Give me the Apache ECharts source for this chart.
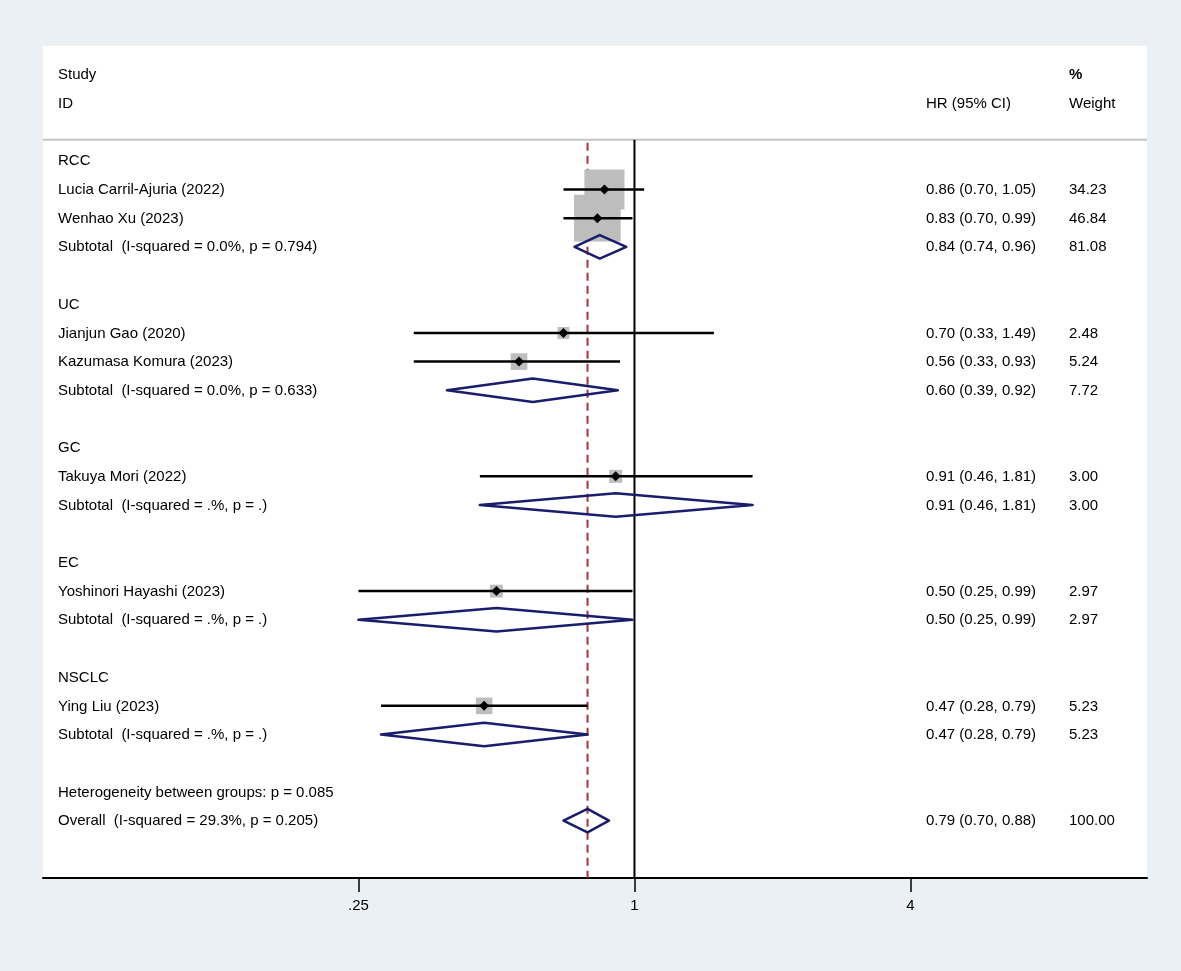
<!DOCTYPE html>
<html><head><meta charset="utf-8">
<script src="https://cdn.jsdelivr.net/npm/echarts@6/dist/echarts.min.js"></script>
<style>html,body{margin:0;padding:0;background:#eaf0f3;} #c{width:1181px;height:971px;}</style>
</head><body><div id="c"></div>
<script>
// ---------- data ----------
const rowLabels = [
 'RCC','Lucia Carril-Ajuria (2022)','Wenhao Xu (2023)','Subtotal  (I-squared = 0.0%, p = 0.794)','',
 'UC','Jianjun Gao (2020)','Kazumasa Komura (2023)','Subtotal  (I-squared = 0.0%, p = 0.633)','',
 'GC','Takuya Mori (2022)','Subtotal  (I-squared = .%, p = .)','',
 'EC','Yoshinori Hayashi (2023)','Subtotal  (I-squared = .%, p = .)','',
 'NSCLC','Ying Liu (2023)','Subtotal  (I-squared = .%, p = .)','',
 'Heterogeneity between groups: p = 0.085','Overall  (I-squared = 29.3%, p = 0.205)'];
const rowType = [
 'group','study','study','sub','blank',
 'group','study','study','sub','blank',
 'group','study','sub','blank',
 'group','study','sub','blank',
 'group','study','sub','blank',
 'note','sub'];
const hr     = [null,0.86,0.83,0.84,null, null,0.70,0.56,0.60,null, null,0.91,0.91,null, null,0.50,0.50,null, null,0.47,0.47,null, null,0.79];
const ciLow  = [null,0.70,0.70,0.74,null, null,0.33,0.33,0.39,null, null,0.46,0.46,null, null,0.25,0.25,null, null,0.28,0.28,null, null,0.70];
const ciHigh = [null,1.05,0.99,0.96,null, null,1.49,0.93,0.92,null, null,1.81,1.81,null, null,0.99,0.99,null, null,0.79,0.79,null, null,0.88];
const weight = [null,34.23,46.84,81.08,null, null,2.48,5.24,7.72,null, null,3.00,3.00,null, null,2.97,2.97,null, null,5.23,5.23,null, null,100.00];
const headerLeft = ['Study','ID'];
const headerHR = 'HR (95% CI)';
const headerWeight = ['%','Weight'];
const tickValues = [0.25, 1, 4];
const tickLabels = ['.25','1','4'];
const overallHR = 0.79;
const nullHR = 1;

// ---------- derived ----------
const L2 = Math.log2;
const studyData = [], subData = [], textData = [];
for (let i = 0; i < rowLabels.length; i++) {
  if (rowType[i] === 'study') studyData.push([L2(hr[i]), i, L2(ciLow[i]), L2(ciHigh[i]), weight[i]]);
  if (rowType[i] === 'sub') subData.push([L2(hr[i]), i, L2(ciLow[i]), L2(ciHigh[i]), weight[i]]);
  textData.push([0, i]);
}
const FONT = '"Liberation Sans", Arial, sans-serif';
const COL_LABEL = 15, COL_HR = 883, COL_W = 1026; // px offsets from the grid's left edge

const chart = echarts.init(document.getElementById('c'), null, {renderer: 'canvas'});
chart.setOption({
  animation: false,
  backgroundColor: '#eaf0f3',
  grid: {left: 43, right: 34, top: 46, bottom: 93, show: true, backgroundColor: '#ffffff', borderWidth: 0},
  xAxis: {
    type: 'value', min: -4.286, max: 3.714,
    splitLine: {show: false},
    axisLine: {show: true, onZero: false, lineStyle: {color: '#000', width: 2}},
    axisTick: {show: true, customValues: tickValues.map(L2), length: 14, lineStyle: {color: '#000', width: 1.5}},
    axisLabel: {
      customValues: tickValues.map(L2), margin: 20, color: '#000', fontSize: 15, fontFamily: FONT,
      formatter: v => { const k = tickValues.findIndex(t => Math.abs(L2(t) - v) < 1e-6); return k >= 0 ? tickLabels[k] : ''; }
    }
  },
  yAxis: {type: 'value', min: -4, max: 25, inverse: true, show: false},
  series: [
    { // reference lines and header separator
      type: 'custom', data: [[0, 0]], z: 1, silent: true,
      renderItem: (params, api) => {
        const cs = params.coordSys;
        const sepY = api.coord([0, -0.73])[1];
        const bot = api.coord([0, 25])[1];
        const xNull = api.coord([L2(nullHR), 0])[0];
        const xOv = api.coord([L2(overallHR), 0])[0];
        return {type: 'group', children: [
          {type: 'line', shape: {x1: cs.x, y1: sepY, x2: cs.x + cs.width, y2: sepY}, style: {stroke: '#c4c4c4', lineWidth: 2}},
          {type: 'line', shape: {x1: xOv, y1: sepY + 3, x2: xOv, y2: bot}, style: {stroke: '#a3343e', lineWidth: 2, lineDash: [8, 5]}},
          {type: 'line', shape: {x1: xNull, y1: sepY, x2: xNull, y2: bot}, style: {stroke: '#000', lineWidth: 2}}
        ]};
      }
    },
    { // weight boxes
      type: 'custom', data: studyData, z: 2, silent: true, encode: {x: 0, y: 1},
      renderItem: (params, api) => {
        const c = api.coord([api.value(0), api.value(1)]);
        const s = 6.6 * Math.sqrt(api.value(4)) + 1.5;
        return {type: 'rect', shape: {x: c[0] - s / 2, y: c[1] - s / 2, width: s, height: s}, style: {fill: '#bdbdbd'}};
      }
    },
    { // CI lines and point estimates
      type: 'custom', data: studyData, z: 3, silent: true, encode: {x: 0, y: 1},
      renderItem: (params, api) => {
        const c = api.coord([api.value(0), api.value(1)]);
        const a = api.coord([api.value(2), api.value(1)]);
        const b = api.coord([api.value(3), api.value(1)]);
        const d = 5;
        return {type: 'group', children: [
          {type: 'line', shape: {x1: a[0], y1: a[1], x2: b[0], y2: b[1]}, style: {stroke: '#000', lineWidth: 2.5}},
          {type: 'polygon', shape: {points: [[c[0] - d, c[1]], [c[0], c[1] - d], [c[0] + d, c[1]], [c[0], c[1] + d]]}, style: {fill: '#000'}}
        ]};
      }
    },
    { // pooled diamonds
      type: 'custom', data: subData, z: 3, silent: true, encode: {x: 0, y: 1},
      renderItem: (params, api) => {
        const c = api.coord([api.value(0), api.value(1)]);
        const a = api.coord([api.value(2), api.value(1)]);
        const b = api.coord([api.value(3), api.value(1)]);
        const h = api.size([0, 0.82])[1] / 2;
        return {type: 'polygon', shape: {points: [[a[0], c[1]], [c[0], c[1] - h], [b[0], c[1]], [c[0], c[1] + h]]},
          style: {fill: 'none', stroke: '#1a1c6c', lineWidth: 2.5, lineJoin: 'round'}};
      }
    },
    { // text table
      type: 'custom', data: textData, z: 4, silent: true,
      renderItem: (params, api) => {
        const i = api.value(1);
        const cs = params.coordSys;
        const y = api.coord([0, i])[1] + 0.5;
        const mk = (x, yy, t, w) => ({type: 'text', x: cs.x + x, y: yy,
          style: {text: t, fill: '#000', fontSize: 15, fontFamily: FONT, fontWeight: w || 'normal', align: 'left', verticalAlign: 'middle'}});
        const ch = [mk(COL_LABEL, y, rowLabels[i])];
        if (hr[i] != null) {
          ch.push(mk(COL_HR, y, hr[i].toFixed(2) + ' (' + ciLow[i].toFixed(2) + ', ' + ciHigh[i].toFixed(2) + ')'));
          ch.push(mk(COL_W, y, weight[i].toFixed(2)));
        }
        if (i === 0) {
          const y3 = api.coord([0, -3])[1] + 0.5, y2 = api.coord([0, -2])[1] + 0.5;
          ch.push(mk(COL_LABEL, y3, headerLeft[0]), mk(COL_LABEL, y2, headerLeft[1]),
                  mk(COL_HR, y2, headerHR), mk(COL_W, y3, headerWeight[0], 'bold'), mk(COL_W, y2, headerWeight[1]));
        }
        return {type: 'group', children: ch};
      }
    }
  ]
});
</script></body></html>
